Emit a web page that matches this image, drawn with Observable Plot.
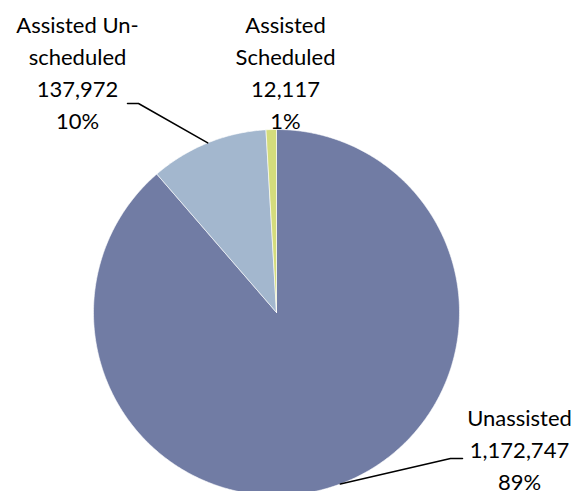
<!DOCTYPE html>
<html>
<head>
<meta charset="utf-8">
<script src="https://cdn.jsdelivr.net/npm/d3@7"></script>
<script src="https://cdn.jsdelivr.net/npm/@observablehq/plot@0.6"></script>
<style>
  html, body { margin: 0; padding: 0; background: #fff; overflow: hidden; }
  #chart svg { display: block; }
</style>
</head>
<body>
<div id="chart"></div>
<script>
// ---- data ----
const categories = ["Unassisted", "Assisted Unscheduled", "Assisted Scheduled"];
const values = [1172747, 137972, 12117];
const nameLabels = ["Unassisted", "Assisted Un-\nscheduled", "Assisted\nScheduled"];
const valueLabels = ["1,172,747", "137,972", "12,117"];
const percentLabels = ["89%", "10%", "1%"];
const colors = ["#717ca4", "#a3b7ce", "#d4dc7c"];

// ---- layout ----
const W = 579, H = 491;
const cx = 276, cy = 312, R = 183;
const X = px => (px - cx) / R;
const Y = py => (cy - py) / R;

// pie angles (clockwise from 12 o'clock)
const arcs = d3.pie().sort(null).value(d => d)(values);

// slice outlines in unit coordinates
const slices = arcs.map((a, i) => {
  const pts = [{x: 0, y: 0, i}];
  const n = Math.max(2, Math.ceil((a.endAngle - a.startAngle) / (Math.PI / 360)));
  for (let k = 0; k <= n; k++) {
    const t = a.startAngle + (a.endAngle - a.startAngle) * k / n;
    pts.push({x: Math.sin(t), y: Math.cos(t), i});
  }
  pts.push({x: 0, y: 0, i});
  return pts;
});

// label placement (pixel positions of label centres / first baseline)
const labelPos = [
  {x: 519, y: 425},
  {x: 77, y: 32},
  {x: 285, y: 32}
];
const lineH = 32;
const fontSize = 22;

const textLines = [];
categories.forEach((c, i) => {
  const lines = [...nameLabels[i].split("\n"), valueLabels[i], percentLabels[i]];
  lines.forEach((t, k) => {
    const baseline = labelPos[i].y + k * lineH;
    textLines.push({text: t, x: X(labelPos[i].x), y: Y(baseline - 0.32 * fontSize)});
  });
});

// leader lines: from label elbow to slice mid-angle on the rim
const mid = a => (a.startAngle + a.endAngle) / 2;
const leaders = [
  [{x: X(462), y: Y(458)}, {x: X(450), y: Y(458)}, {x: Math.sin(mid(arcs[0])), y: Math.cos(mid(arcs[0]))}],
  [{x: X(127), y: Y(103)}, {x: X(138), y: Y(103)}, {x: Math.sin(mid(arcs[1])), y: Math.cos(mid(arcs[1]))}]
];

const chart = Plot.plot({
  width: W,
  height: H,
  margin: 0,
  x: {domain: [-1, 1], range: [cx - R, cx + R], axis: null},
  y: {domain: [-1, 1], range: [cy + R, cy - R], axis: null},
  style: {background: "#fff", fontFamily: "Lato, 'Open Sans', sans-serif"},
  marks: [
    ...slices.map((pts, i) => Plot.line(pts, {
      x: "x", y: "y", fill: colors[i], stroke: "#fff", strokeWidth: 0.6, curve: "linear"
    })),
    ...leaders.map(pts => Plot.line(pts, {x: "x", y: "y", stroke: "#000", strokeWidth: 1.5})),
    Plot.text(textLines, {
      x: "x", y: "y", text: "text", textAnchor: "middle",
      fontSize: fontSize, fill: "#000", lineAnchor: "middle"
    })
  ]
});
document.getElementById("chart").appendChild(chart);
</script>
</body>
</html>
